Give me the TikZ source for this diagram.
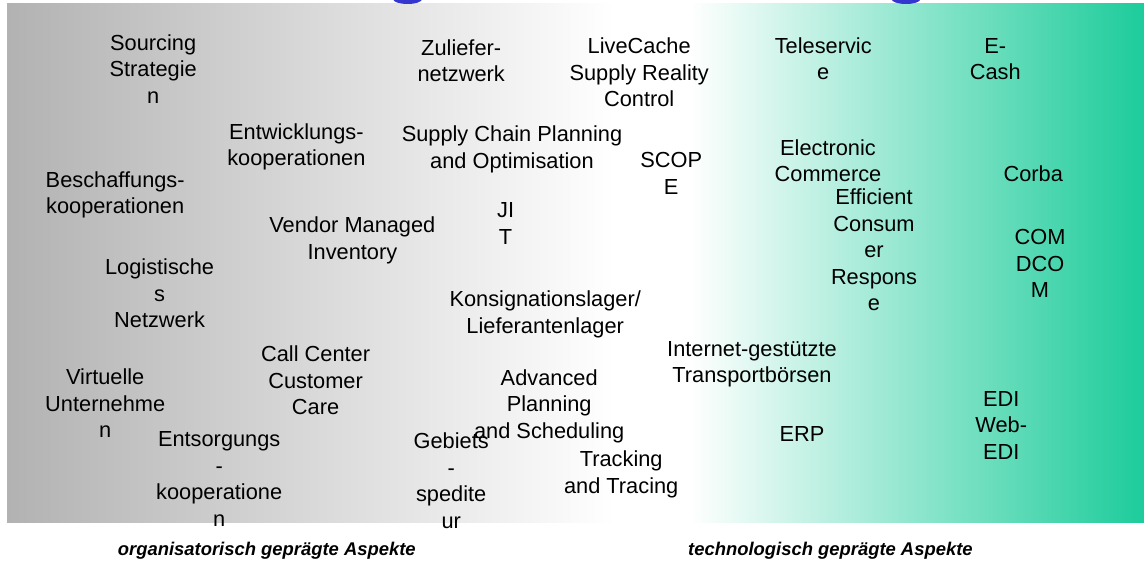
\documentclass[tikz,border=0pt]{standalone}
\usepackage{fontspec}
\setmainfont{Liberation Sans}
\definecolor{ink}{HTML}{000000}
\definecolor{bandgray}{HTML}{B2B2B2}
\definecolor{bandteal}{HTML}{1DCC9B}
\definecolor{dotblue}{HTML}{3535D0}
\pgfdeclarehorizontalshading{bandfade}{100bp}{color(0bp)=(bandgray); color(25bp)=(bandgray); color(51.7bp)=(white); color(55bp)=(white); color(75bp)=(bandteal); color(100bp)=(bandteal)}
\newcommand{\termfont}{\fontsize{15.5}{18.85}\selectfont}
\newcommand{\aspectfont}{\fontsize{13.1}{15.6}\selectfont\bfseries\itshape}
\tikzset{
 every node/.append style={text=ink,align=center,inner sep=0pt},
 term/.style={font=\termfont,anchor=base},
 aspect/.style={font=\aspectfont,anchor=base},
 band/.style={shading=bandfade,draw=none},
 blob/.style={fill=dotblue,draw=none},
}
\begin{document}
\begin{tikzpicture}

\useasboundingbox (0,0) rectangle (28.6,-14.3);
\shade[band] (0.175,-0.1) rectangle (28.6,-13.075);
\begin{scope}
\clip (0,0) rectangle (28.6,-14.3);
\fill[blob] (10.19,0.02) ellipse (0.36 and 0.12);
\fill[blob] (22.65,0.02) ellipse (0.36 and 0.12);
\end{scope}
% organisational side (base = last line)
\node[term] (sourcing) at (3.83,-2.58) {Sourcing\\Strategie\\n};
\node[term] (entwicklung) at (7.41,-4.14) {Entwicklungs-\\kooperationen};
\node[term] (beschaffung) at (2.88,-5.35) {Beschaffungs-\\kooperationen};
\node[term] (zuliefer) at (11.53,-2.04) {Zuliefer-\\netzwerk};
\node[term] (livecache) at (15.98,-2.67) {LiveCache\\Supply Reality\\Control};
\node[term] (scp) at (12.80,-4.21) {Supply Chain Planning\\and Optimisation};
\node[term] (scope) at (16.78,-4.86) {SCOP\\E};
\node[term] (jit) at (12.64,-6.11) {JI\\T};
\node[term] (vmi) at (8.81,-6.48) {Vendor Managed\\Inventory};
\node[term] (logistik) at (3.99,-8.19) {Logistische\\s\\Netzwerk};
\node[term] (konsilager) at (13.63,-8.33) {Konsignationslager/\\Lieferantenlager};
\node[term] (callcenter) at (7.89,-10.37) {Call Center\\Customer\\Care};
\node[term] (virtuell) at (2.63,-10.94) {Virtuelle\\Unternehme\\n};
\node[term] (aps) at (13.73,-10.96) {Advanced\\Planning\\and Scheduling};
\node[term] (entsorgung) at (5.48,-13.16) {Entsorgungs\\-\\kooperatione\\n};
\node[term] (gebiet) at (11.28,-13.21) {Gebiets\\-\\spedite\\ur};
\node[term] (tracking) at (15.53,-12.33) {Tracking\\and Tracing};
% technological side
\node[term] (teleservice) at (20.58,-2.00) {Teleservic\\e};
\node[term] (ecash) at (24.88,-2.00) {E-\\Cash};
\node[term] (ecommerce) at (20.70,-4.54) {Electronic\\Commerce};
\node[term] (ecr) at (21.85,-7.77) {Efficient\\Consum\\er\\Respons\\e};
\node[term] (corba) at (25.83,-4.54) {Corba};
\node[term] (dcom) at (26.00,-7.44) {COM\\DCO\\M};
\node[term] (transport) at (18.80,-9.57) {Internet-gestützte\\Transportbörsen};
\node[term] (erp) at (20.05,-11.04) {ERP};
\node[term] (edi) at (25.03,-11.48) {EDI\\Web-\\EDI};
% axis captions
\node[aspect] (orgaspekt) at (6.67,-13.88) {organisatorisch geprägte Aspekte};
\node[aspect] (techaspekt) at (20.76,-13.88) {technologisch geprägte Aspekte};

\end{tikzpicture}
\end{document}
